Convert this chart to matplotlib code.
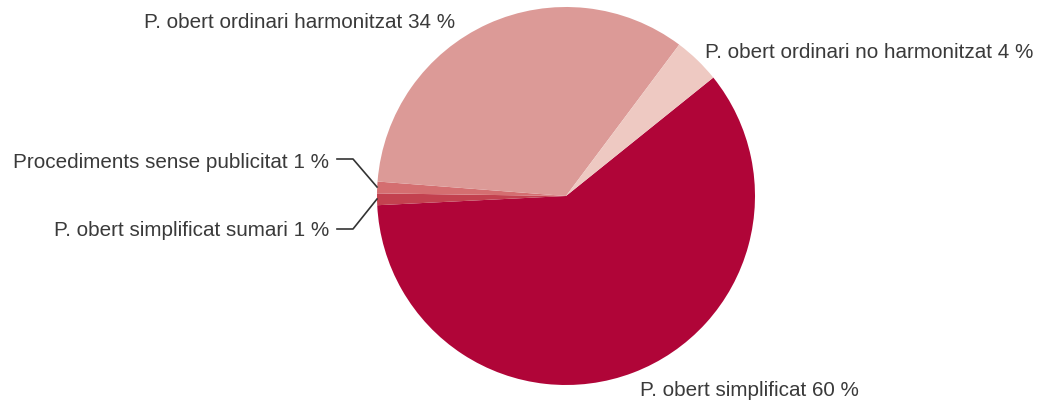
import matplotlib
matplotlib.use("Agg")
import matplotlib.pyplot as plt

categories = ["P. obert simplificat", "P. obert simplificat sumari",
              "Procediments sense publicitat", "P. obert ordinari harmonitzat",
              "P. obert ordinari no harmonitzat"]
values = [60, 1, 1, 34, 4]
colors = ["#B00538", "#C3414F", "#D46E70", "#DC9A97", "#EEC9C2"]

plt.rcParams['font.family'] = ['Liberation Sans', 'DejaVu Sans']
W, H = 1043, 409
fig = plt.figure(figsize=(W / 100, H / 100), dpi=100)
ax = fig.add_axes([0, 0, 1, 1])
ax.set_xlim(0, W)
ax.set_ylim(0, H)
ax.set_aspect('equal')
ax.axis('off')

cx, cy, r = 566, H - 196, 189
ax.pie(values, colors=colors, startangle=38.8, counterclock=False,
       center=(cx, cy), radius=r, wedgeprops=dict(linewidth=0))
ax.set_xlim(0, W)
ax.set_ylim(0, H)

tc = "#3a3a3a"
fs = 14.9
lab = [f"{c} {v} %" for c, v in zip(categories, values)]
ax.text(640, H - 390, lab[0], ha='left', va='center', color=tc, fontsize=fs)
ax.text(329, H - 231, lab[1], ha='right', va='center', color=tc, fontsize=fs)
ax.text(329, H - 163, lab[2], ha='right', va='center', color=tc, fontsize=fs)
ax.text(455, H - 22, lab[3], ha='right', va='center', color=tc, fontsize=fs)
ax.text(705, H - 52, lab[4], ha='left', va='center', color=tc, fontsize=fs)

# leader lines
ax.plot([337, 353, 377], [H - 159, H - 159, H - 187], color="#333333", lw=1.2)
ax.plot([337, 353, 377], [H - 229, H - 229, H - 199], color="#333333", lw=1.2)

fig.savefig("out.png", dpi=100)
